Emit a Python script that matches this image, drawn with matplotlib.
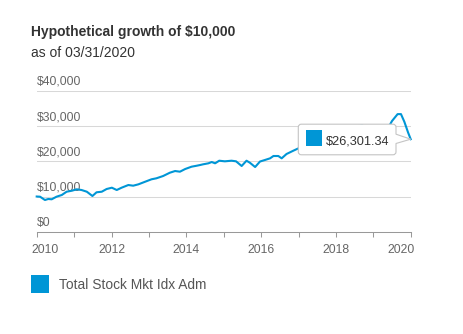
import matplotlib
matplotlib.use("Agg")
import matplotlib.pyplot as plt
import matplotlib.transforms as mtransforms
from matplotlib.path import Path
from matplotlib.patches import PathPatch, Rectangle

plt.rcParams['font.family'] = ['Liberation Sans', 'DejaVu Sans']

title = "Hypothetical growth of $10,000"
subtitle = "as of 03/31/2020"
series_name = "Total Stock Mkt Idx Adm"
tooltip_label = "$26,301.34"

# decimal positions along the x axis (as plotted) and portfolio values
dates = [2010.00, 2010.09, 2010.22, 2010.31, 2010.40, 2010.53, 2010.67, 2010.80,
         2010.94, 2011.07, 2011.20, 2011.34, 2011.49, 2011.60, 2011.74, 2011.87,
         2012.01, 2012.14, 2012.27, 2012.45, 2012.58, 2012.72, 2012.90, 2013.07,
         2013.20, 2013.38, 2013.56, 2013.70, 2013.83, 2013.97, 2014.14, 2014.28,
         2014.37, 2014.45, 2014.59, 2014.68, 2014.77, 2014.88, 2015.03, 2015.21,
         2015.33, 2015.48, 2015.61, 2015.70, 2015.84, 2015.97, 2016.10, 2016.24,
         2016.33, 2016.46, 2016.55, 2016.68, 2016.86, 2017.00, 2017.25, 2017.50,
         2017.75, 2017.95, 2018.05, 2018.30, 2018.55, 2018.70, 2018.85, 2019.00,
         2019.20, 2019.35, 2019.50, 2019.65, 2019.74, 2019.83, 2019.93, 2020.00]
values = [10000, 9950, 9010, 9300, 9210, 9950, 10430, 11370,
          11650, 12050, 11850, 11370, 10150, 11200, 11370, 12140,
          12510, 11850, 12510, 13270, 13080, 13470, 14210, 14900,
          15180, 15830, 16770, 17250, 17060, 17820, 18480, 18760,
          18960, 19160, 19440, 19810, 19440, 20180, 20010, 20180,
          20010, 18680, 20180, 19610, 18390, 19950, 20380, 20860,
          21520, 21520, 20860, 22090, 23020, 23710, 24700, 25600,
          27000, 28800, 27300, 28000, 29800, 30300, 26500, 28000,
          29800, 28600, 31470, 33430, 33430, 31260, 28200, 26301.34]

x_ticks = list(range(2010, 2021))
x_labels = [str(y) if y % 2 == 0 else "" for y in x_ticks]
y_ticks = [0, 10000, 20000, 30000, 40000]
y_labels = ["$0", "$10,000", "$20,000", "$30,000", "$40,000"]

LINE = "#0096d6"
W, H = 464, 334
fig = plt.figure(figsize=(W / 100, H / 100), dpi=100)
fig.patch.set_facecolor("white")

left_px, right_px, top_px, bottom_px = 36.7, 410.7, 91.0, 231.7
ax = fig.add_axes([left_px / W, (H - bottom_px) / H,
                   (right_px - left_px) / W, (bottom_px - top_px) / H])
ax.set_xlim(2010, 2020)
ax.set_ylim(0, 40000)
for s in ["left", "right", "top"]:
    ax.spines[s].set_visible(False)
ax.spines["bottom"].set_color("#999999")
ax.spines["bottom"].set_linewidth(0.75)

ax.set_yticks(y_ticks)
ax.set_yticklabels([])
ax.tick_params(axis="y", length=0)
for v in y_ticks[1:]:
    ax.axhline(v, color="#d8d8d8", lw=0.75, zorder=0)

ax.set_xticks(x_ticks)
ax.set_xticklabels([])
ax.tick_params(axis="x", length=3.3, width=0.75, color="#999999", direction="out")

# y labels sit above their grid lines, inside the plot
ytrans = mtransforms.offset_copy(
    mtransforms.blended_transform_factory(ax.transAxes, ax.transData),
    fig=fig, x=0, y=6, units="dots")
for v, lab in zip(y_ticks, y_labels):
    ax.text(0, v, lab, transform=ytrans, ha="left", va="baseline",
            fontsize=8.7, color="#666666")

# x labels, first/last kept within the chart area
xbase = mtransforms.blended_transform_factory(ax.transData, ax.transAxes)
for i, (t, lab) in enumerate(zip(x_ticks, x_labels)):
    if not lab:
        continue
    ha, dx = "center", 0
    if i == 0:
        ha, dx = "left", -5
    elif i == len(x_ticks) - 1:
        ha, dx = "right", 3.7
    tr = mtransforms.offset_copy(xbase, fig=fig, x=dx, y=-21.6, units="dots")
    ax.text(t, 0, lab, transform=tr, ha=ha, va="baseline",
            fontsize=8.7, color="#666666")

ax.plot(dates, values, color=LINE, lw=1.5, clip_on=False, zorder=3,
        solid_joinstyle="round")

# tooltip callout anchored at the last point (units: pixels)
anchor = mtransforms.Affine2D() + mtransforms.ScaledTranslation(
    dates[-1], values[-1], ax.transData)
L, R, T, B, r = -112.4, -14.7, 15.0, -15.6, 3.0
pu, pl = 5.0, -4.3
verts = [(L + r, T), (R - r, T), (R, T), (R, T - r), (R, pu), (0, 0), (R, pl),
         (R, B + r), (R, B), (R - r, B), (L + r, B), (L, B), (L, B + r),
         (L, T - r), (L, T), (L + r, T), (L + r, T)]
codes = [Path.MOVETO, Path.LINETO, Path.CURVE3, Path.CURVE3, Path.LINETO,
         Path.LINETO, Path.LINETO, Path.LINETO, Path.CURVE3, Path.CURVE3,
         Path.LINETO, Path.CURVE3, Path.CURVE3, Path.LINETO, Path.CURVE3,
         Path.CURVE3, Path.CLOSEPOLY]
tip = PathPatch(Path(verts, codes), transform=anchor, facecolor="white",
                edgecolor="#c4c4c4", lw=0.8, clip_on=False, zorder=5)
ax.add_patch(tip)
ax.add_patch(Rectangle((-104.7, -6.6), 15.7, 15.6, transform=anchor,
                       facecolor=LINE, edgecolor="none", clip_on=False, zorder=6))
ax.text(-84.7, -5.0, tooltip_label, transform=anchor, ha="left", va="baseline",
        fontsize=9.2, color="#333333", zorder=7, clip_on=False)

# titles
fig.text(31 / W, (H - 35.7) / H, title, fontsize=10, fontweight="bold",
         color="#333333", ha="left", va="baseline")
fig.text(31 / W, (H - 56.7) / H, subtitle, fontsize=10,
         color="#333333", ha="left", va="baseline")

# legend
fig.patches.append(Rectangle((31 / W, (H - 292.7) / H), 18 / W, 17.7 / H,
                             transform=fig.transFigure, facecolor=LINE,
                             edgecolor="none"))
fig.text(59 / W, (H - 289.3) / H, series_name, fontsize=9.9,
         color="#555555", ha="left", va="baseline")

fig.savefig("out.png", dpi=100, facecolor="white")
